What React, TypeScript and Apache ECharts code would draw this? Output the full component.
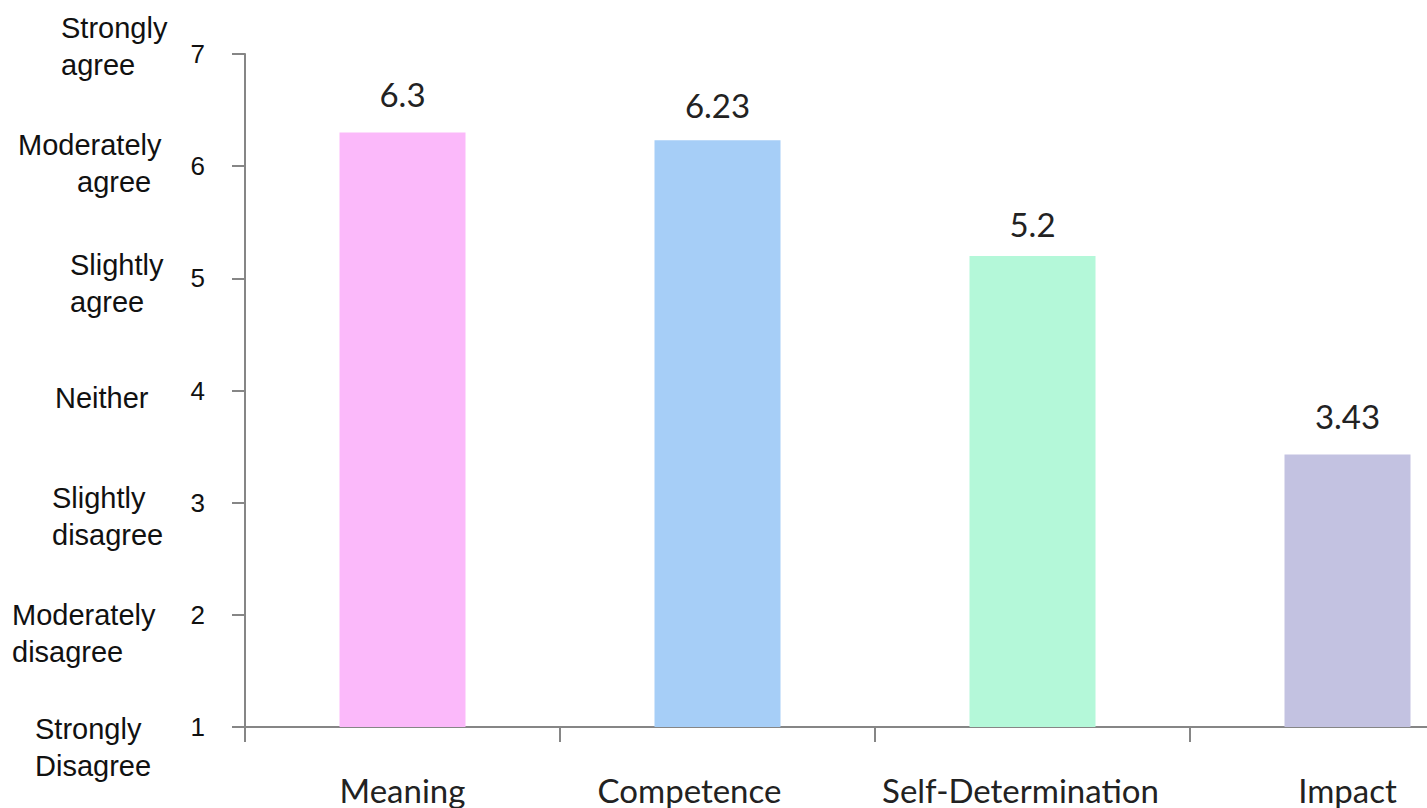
import React, { useEffect, useRef } from "react";
import * as echarts from "echarts";

// Mean agreement score per empowerment dimension (1–7 scale)
const categories = ["Meaning", "Competence", "Self-Determination", "Impact"];
const scores = [6.3, 6.23, 5.2, 3.43];
const barColors = ["#FBB9FA", "#A6CEF7", "#B4F8D9", "#C3C2E1"];

// Scale ticks and their verbal anchors (index = value - 1)
const tickValues = [1, 2, 3, 4, 5, 6, 7];
const scaleLabels = [
  "Strongly\nDisagree",
  "Moderately\ndisagree",
  "Slightly\ndisagree",
  "Neither",
  "Slightly\nagree",
  "Moderately\nagree",
  "Strongly\nagree",
];

// Layout tweaks for the verbal anchors: left indent of each line, vertical nudge of the block
const anchorIndent = [[23, 23], [0, 0], [40, 40], [43], [58, 58], [6, 65], [49, 49]];
const anchorShift = [20, 19, 14, 7, 5, -3, -8];
// Gap between each bar top and its value label
const labelGaps = [22, 19, 15, 22];
// Horizontal nudge of category labels
const categoryShift = [0, -28, -12, 0];

const AXIS_GREY = "#868686";

export default function App() {
  const ref = useRef<HTMLDivElement>(null);

  useEffect(() => {
    if (!ref.current) return;
    const chart = echarts.init(ref.current, null, { renderer: "svg" });

    const anchorRich: Record<string, any> = {};
    scaleLabels.forEach((lbl, i) => {
      lbl.split("\n").forEach((_, k) => {
        anchorRich[`a${i}_${k}`] = {
          fontFamily: "Liberation Sans",
          fontSize: 29,
          lineHeight: 37,
          color: "#111",
          padding: [0, 0, 0, anchorIndent[i][k] || 0],
        };
      });
      anchorRich[`g${i}`] = {
        fontSize: 1,
        lineHeight: Math.max(1, Math.abs(anchorShift[i]) * 2),
      };
    });

    const catRich: Record<string, any> = {};
    categories.forEach((_, i) => {
      const s = categoryShift[i];
      catRich[`c${i}`] = {
        fontFamily: "Lato",
        fontSize: 33,
        lineHeight: 33,
        color: "#222",
        padding: s < 0 ? [0, -2 * s, 0, 0] : [0, 0, 0, 2 * s],
      };
    });

    chart.setOption({
      animation: false,
      backgroundColor: "#ffffff",
      grid: { left: 245, top: 54, width: 1260, height: 673, outerBoundsMode: "none" },
      xAxis: {
        type: "category",
        data: categories,
        axisLine: { show: true, lineStyle: { color: AXIS_GREY, width: 2 } },
        axisTick: { show: true, length: 15, alignWithLabel: false, lineStyle: { color: AXIS_GREY, width: 2 } },
        axisLabel: {
          margin: 46,
          interval: 0,
          formatter: (v: string) => {
            const i = categories.indexOf(v);
            return `{c${i}|${v}}`;
          },
          rich: catRich,
        },
        splitLine: { show: false },
      },
      yAxis: [
        {
          type: "value",
          min: 1,
          max: 7,
          interval: 1,
          position: "left",
          axisLine: { show: true, lineStyle: { color: AXIS_GREY, width: 2 } },
          axisTick: { show: true, length: 13, lineStyle: { color: AXIS_GREY, width: 2 } },
          axisLabel: {
            margin: 40,
            fontFamily: "Liberation Sans",
            fontSize: 26,
            color: "#111",
            padding: [6, 0, 0, 0],
            formatter: (v: number) => (tickValues.includes(v) ? String(v) : ""),
          },
          splitLine: { show: false },
        },
        {
          type: "value",
          min: 1,
          max: 7,
          interval: 1,
          position: "left",
          axisLine: { show: false },
          axisTick: { show: false },
          splitLine: { show: false },
          axisLabel: {
            margin: 233,
            align: "left",
            verticalAlign: "middle",
            formatter: (v: number) => {
              const i = Math.round(v) - 1;
              if (i < 0 || i >= scaleLabels.length) return "";
              const parts = scaleLabels[i].split("\n").map((t, k) => `{a${i}_${k}|${t}}`);
              const s = anchorShift[i];
              if (s > 0) parts.unshift(`{g${i}| }`);
              else if (s < 0) parts.push(`{g${i}| }`);
              return parts.join("\n");
            },
            rich: anchorRich,
          },
        },
      ],
      series: [
        {
          type: "bar",
          yAxisIndex: 0,
          barWidth: "40%",
          data: scores.map((v, i) => ({
            value: v,
            itemStyle: { color: barColors[i] },
            label: { distance: labelGaps[i] },
          })),
          label: {
            show: true,
            position: "top",
            fontFamily: "Lato",
            fontSize: 33,
            color: "#222",
            formatter: (p: any) => String(p.value),
          },
        },
      ],
    });

    return () => chart.dispose();
  }, []);

  return (
    <div
      ref={ref}
      style={{ position: "absolute", left: 0, top: 0, width: 1427, height: 808 }}
    />
  );
}
